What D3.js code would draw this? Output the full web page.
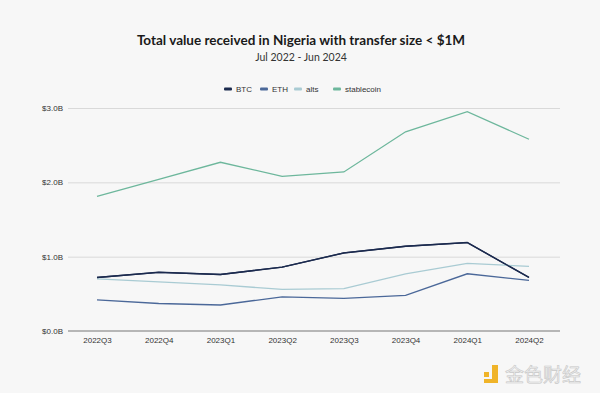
<!DOCTYPE html>
<html>
<head>
<meta charset="utf-8">
<script src="https://cdn.jsdelivr.net/npm/d3@7"></script>
<style>
  body { margin: 0; background: #f7f7f7; }
  svg { display: block; }
</style>
</head>
<body>
<div id="chart"></div>
<script>
const quarters = ["2022Q3", "2022Q4", "2023Q1", "2023Q2", "2023Q3", "2023Q4", "2024Q1", "2024Q2"];
const btc = [0.72, 0.79, 0.76, 0.86, 1.05, 1.14, 1.19, 0.72];
const eth = [0.42, 0.37, 0.35, 0.46, 0.44, 0.48, 0.77, 0.68];
const alts = [0.70, 0.66, 0.62, 0.56, 0.57, 0.77, 0.91, 0.87];
const stablecoin = [1.81, 2.04, 2.27, 2.08, 2.14, 2.68, 2.95, 2.58];
const yTicks = [0, 1, 2, 3];

const series = [
  { name: "BTC", values: btc, color: "#1b2a4e" },
  { name: "ETH", values: eth, color: "#4b6899" },
  { name: "alts", values: alts, color: "#a9cbd3" },
  { name: "stablecoin", values: stablecoin, color: "#6db79c" },
];

const width = 600;
const height = 393;
const margin = { top: 108, right: 40, bottom: 62, left: 68 };

const svg = d3.select("#chart").append("svg")
  .attr("width", width)
  .attr("height", height);

svg.append("rect").attr("width", width).attr("height", height).attr("fill", "#f7f7f7");

// titles
svg.append("text")
  .attr("x", 301).attr("y", 45)
  .attr("text-anchor", "middle")
  .attr("font-family", "Lato, 'Open Sans', sans-serif")
  .attr("font-weight", "bold")
  .attr("font-size", 13.5)
  .attr("fill", "#1a1a1a")
  .text("Total value received in Nigeria with transfer size < $1M");

svg.append("text")
  .attr("x", 301).attr("y", 61)
  .attr("text-anchor", "middle")
  .attr("font-family", "Lato, 'Open Sans', sans-serif")
  .attr("font-size", 10.5)
  .attr("fill", "#333")
  .text("Jul 2022 - Jun 2024");

const x = d3.scalePoint()
  .domain(quarters)
  .range([97, 529]);

const y = d3.scaleLinear()
  .domain([0, 3])
  .range([height - margin.bottom, margin.top]);

// gridlines
svg.append("g")
  .attr("class", "gridlines")
  .attr("transform", `translate(${margin.left}, 0)`)
  .call(d3.axisLeft(y).tickValues(yTicks.slice(1)).tickFormat("").tickSize(-(width - margin.left - margin.right)))
  .call(g => g.select(".domain").remove())
  .call(g => g.selectAll("line").attr("stroke", "#d9d9d9").attr("stroke-width", 1));

// y labels
svg.append("g")
  .attr("transform", `translate(${margin.left}, 0)`)
  .call(d3.axisLeft(y).tickValues(yTicks).tickSize(0).tickPadding(5).tickFormat(d => "$" + d.toFixed(1) + "B"))
  .call(g => g.select(".domain").remove())
  .call(g => g.selectAll("text")
    .attr("font-family", "'Liberation Sans', Arial, sans-serif")
    .attr("font-size", 8)
    .attr("fill", "#333"));

// x axis
const xAxis = svg.append("g")
  .attr("transform", `translate(0, ${y(0)})`)
  .call(d3.axisBottom(x).tickSize(0).tickPadding(6));
xAxis.select(".domain")
  .attr("d", `M${margin.left},0H${width - margin.right}`)
  .attr("stroke", "#777")
  .attr("stroke-width", 1.2);
xAxis.selectAll("text")
  .attr("font-family", "'Liberation Sans', Arial, sans-serif")
  .attr("font-size", 8)
  .attr("fill", "#333");

// lines
const line = d3.line()
  .x((d, i) => x(quarters[i]))
  .y(d => y(d));

svg.append("g")
  .selectAll("path")
  .data(series)
  .join("path")
  .attr("d", d => line(d.values))
  .attr("fill", "none")
  .attr("stroke", d => d.color)
  .attr("stroke-width", 1.3);

// BTC on top
svg.append("path")
  .attr("d", line(btc))
  .attr("fill", "none")
  .attr("stroke", series[0].color)
  .attr("stroke-width", 1.4);

// legend
const legendX = [224, 260, 294, 333];
const legend = svg.append("g")
  .selectAll("g")
  .data(series)
  .join("g")
  .attr("transform", (d, i) => `translate(${legendX[i]}, 89)`);
legend.append("rect")
  .attr("x", 0).attr("y", -1.5)
  .attr("width", 8).attr("height", 3)
  .attr("rx", 1)
  .attr("fill", d => d.color);
legend.append("text")
  .attr("x", 12).attr("y", 3)
  .attr("font-family", "'Liberation Sans', Arial, sans-serif")
  .attr("font-size", 8)
  .attr("fill", "#333")
  .text(d => d.name);

// watermark
const wm = svg.append("g").attr("transform", "translate(484, 363)");
wm.append("rect").attr("x", 0).attr("y", 9).attr("width", 5).attr("height", 5).attr("fill", "#f0b429");
wm.append("path")
  .attr("d", "M8,2 H14 V20 H0 V16 H8 Z")
  .attr("fill", "#f0b429");
svg.append("text")
  .attr("x", 505).attr("y", 382)
  .attr("font-family", "'Noto Sans CJK SC', sans-serif")
  .attr("font-size", 19)
  .attr("fill", "#f0f0f0")
  .attr("stroke", "#c8c8c8")
  .attr("stroke-width", 0.6)
  .text("金色财经");
</script>
</body>
</html>
